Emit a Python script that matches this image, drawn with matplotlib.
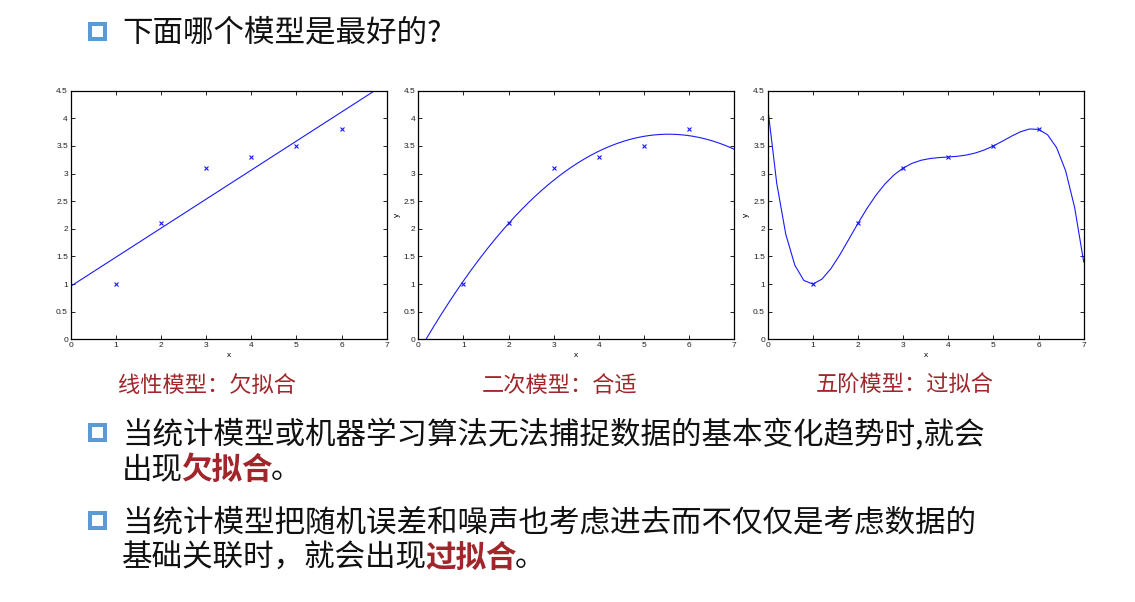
import numpy as np
import matplotlib
matplotlib.use("Agg")
import matplotlib.pyplot as plt
from matplotlib.patches import Rectangle

# data points shared by the three panels
x_pts = [1, 2, 3, 4, 5, 6]
y_pts = [1.0, 2.1, 3.1, 3.3, 3.5, 3.8]
fit_degrees = [1, 2, 5]
captions = ["线性模型：欠拟合", "二次模型：合适", "五阶模型：过拟合"]
ylabels = ["", "y", "y"]
x_ticks = [0, 1, 2, 3, 4, 5, 6, 7]
y_ticks = [0, 0.5, 1, 1.5, 2, 2.5, 3, 3.5, 4, 4.5]
y_tick_labels = ["0", "0.5", "1", "1.5", "2", "2.5", "3", "3.5", "4", "4.5"]

title_text = "下面哪个模型是最好的?"
bullet1 = [["当统计模型或机器学习算法无法捕捉数据的基本变化趋势时,就会"],
           ["出现", "欠拟合", "。"]]
bullet2 = [["当统计模型把随机误差和噪声也考虑进去而不仅仅是考虑数据的"],
           ["基础关联时，就会出现", "过拟合", "。"]]

plt.rcParams['font.family'] = ['Noto Sans CJK SC', 'DejaVu Sans']

W, H = 1135, 602
fig = plt.figure(figsize=(W / 100, H / 100), dpi=100)
fig.patch.set_facecolor("white")

# background axes in pixel coords for the slide text
bg = fig.add_axes([0, 0, 1, 1])
bg.set_xlim(0, W)
bg.set_ylim(H, 0)
bg.axis("off")

red = "#a0262b"
blue_box = "#5b9bd5"
text_size = 22


def bullet(y):
    bg.add_patch(Rectangle((90, y - 7.5), 15, 15, facecolor="white",
                           edgecolor=blue_box, lw=2.9))


def rich_line(parts, y, colors, weights):
    t = bg.text(122, y, parts[0], fontsize=text_size, color=colors[0],
                fontweight=weights[0], va="center", ha="left")
    prev = t
    for p, c, w in zip(parts[1:], colors[1:], weights[1:]):
        prev = bg.annotate(p, xy=(1, 0), xycoords=prev, xytext=(-1.5, 0),
                           textcoords="offset points", fontsize=text_size,
                           color=c, fontweight=w, va="bottom", ha="left")


bullet(31)
bg.text(122, 33, title_text, fontsize=text_size, color="#111111",
        va="center", ha="left")

bullet(432)
rich_line(bullet1[0], 435, ["#111111"], ["normal"])
rich_line(bullet1[1], 470, ["#111111", red, "#111111"], ["normal", "bold", "normal"])

bullet(520)
rich_line(bullet2[0], 523, ["#111111"], ["normal"])
rich_line(bullet2[1], 558, ["#111111", red, "#111111"], ["normal", "bold", "normal"])

# the three fit panels
lefts = [70.7, 418.3, 767.7]
cap_x = [207, 560, 905]
ax_w, ax_h = 316, 248.6
top = 90.7
xs = np.arange(0, 7.0001, 0.2)
xs_fine = np.linspace(0, 7, 300)

for i, deg in enumerate(fit_degrees):
    ax = fig.add_axes([lefts[i] / W, (H - top - ax_h) / H, ax_w / W, ax_h / H])
    coef = np.polyfit(x_pts, y_pts, deg)
    xx = xs if deg == 5 else xs_fine
    ax.plot(xx, np.polyval(coef, xx), color="#1a1aff", lw=0.8)
    ax.plot(x_pts, y_pts, "x", color="#1a1aff", ms=3, mew=0.8)
    ax.set_xlim(0, 7)
    ax.set_ylim(0, 4.5)
    ax.set_xticks(x_ticks)
    ax.set_yticks(y_ticks)
    ax.set_yticklabels(y_tick_labels)
    ax.tick_params(direction="in", top=True, right=True, length=3, width=0.6,
                   labelsize=6, pad=2, labelcolor="#222222")
    for lab in ax.get_xticklabels() + ax.get_yticklabels():
        lab.set_family("Liberation Sans")
    for s in ax.spines.values():
        s.set_linewidth(0.9)
    ax.set_xlabel("x", fontsize=6, family="Liberation Sans", labelpad=2)
    if ylabels[i]:
        ax.set_ylabel(ylabels[i], fontsize=6, family="Liberation Sans", labelpad=2)
    bg.text(cap_x[i], 385, captions[i], fontsize=16, color=red,
            ha="center", va="center")

fig.savefig("out.png", dpi=100, facecolor="white")
